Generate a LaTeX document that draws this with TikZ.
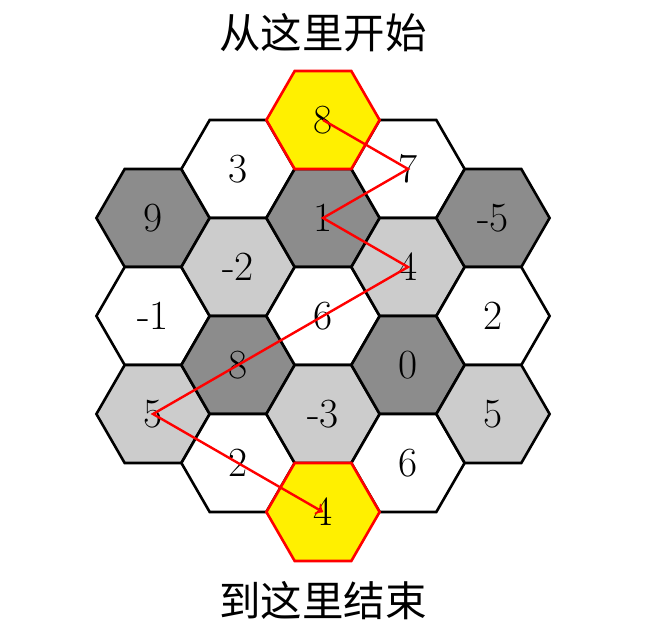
\documentclass[tikz,border=0pt]{standalone}
\usepackage{fontspec}
\newfontfamily\cjk{Noto Sans CJK SC}
\usepackage{tikz}
\usetikzlibrary{shapes.geometric,arrows,calc}
\definecolor{hexdark}{HTML}{8C8C8C}
\definecolor{hexlight}{HTML}{CCCCCC}
\definecolor{hexyellow}{HTML}{FFF000}

\begin{document}
\begin{tikzpicture}[x=0.5pt,y=-0.5pt,
  hex/.style={regular polygon,regular polygon sides=6,minimum size=56.6pt,
    inner sep=0pt,outer sep=0pt,draw=black,line width=1.3pt,font=\huge},
  hexw/.style={hex,fill=white},
  hexl/.style={hex,fill=hexlight},
  hexd/.style={hex,fill=hexdark},
  hexy/.style={hex,fill=hexyellow,draw=red},
  caption/.style={font=\huge\cjk}]
\newcommand*{\hx}{85}; \newcommand*{\hy}{49};
\useasboundingbox (-323,-120) rectangle (328,517);
% column a
\node[hexd] (ac) at (-2*\hx,2*\hy) {9};
\node[hexw] (ae) at (-2*\hx,4*\hy) {-1};
\node[hexl] (ag) at (-2*\hx,6*\hy) {5};
% column b
\node[hexw] (bb) at (-\hx,\hy) {3};
\node[hexl] (bd) at (-\hx,3*\hy) {-2};
\node[hexd] (bf) at (-\hx,5*\hy) {8};
\node[hexw] (bh) at (-\hx,7*\hy) {2};
% column c
\node[hexd] (cc) at (0,2*\hy) {1};
\node[hexw] (ce) at (0,4*\hy) {6};
\node[hexl] (cg) at (0,6*\hy) {-3};
% column d
\node[hexw] (db) at (\hx,\hy) {7};
\node[hexl] (dd) at (\hx,3*\hy) {4};
\node[hexd] (df) at (\hx,5*\hy) {0};
\node[hexw] (dh) at (\hx,7*\hy) {6};
% column e
\node[hexd] (ec) at (2*\hx,2*\hy) {-5};
\node[hexw] (ee) at (2*\hx,4*\hy) {2};
\node[hexl] (eg) at (2*\hx,6*\hy) {5};
% start and end
\node[hexy] (ca) at (0,0) {8};
\node[hexy] (ci) at (0,8*\hy) {4};
\node[caption] (start) at (0,-87) {从这里开始};
\node[caption] (stop) at (0,481) {到这里结束};
% path
\draw[->,red,line width=1.2pt] (ca.center) -- (db.center) -- (cc.center)
  -- (dd.center) -- (ag.center) -- (ci.center);
\end{tikzpicture}
\end{document}
